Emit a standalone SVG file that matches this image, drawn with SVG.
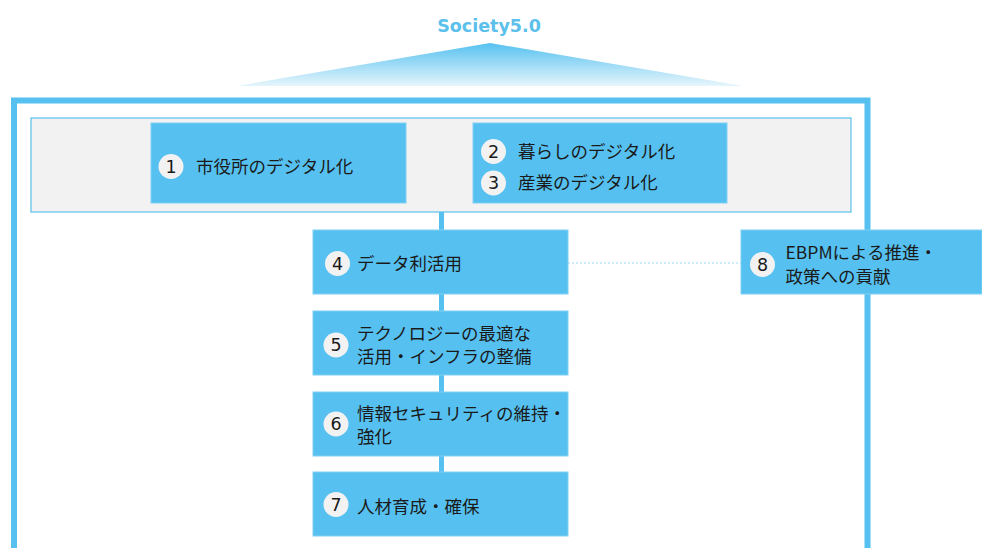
<svg xmlns="http://www.w3.org/2000/svg" width="982" height="548" viewBox="0 0 982 548">
<style>
.box{fill:#56C1F0;stroke:#7FD0F3;stroke-width:1}
.num{fill:#F2F2F2}
.nt{font-family:"DejaVu Sans",Verdana,sans-serif;font-size:17.5px;fill:#1A1A1A;text-anchor:middle}
.t{font-family:"Noto Sans CJK JP","Noto Sans",sans-serif;font-size:17.5px;fill:#1A1A1A}
</style>
<defs>
<linearGradient id="tri" x1="0" y1="0" x2="0" y2="1">
<stop offset="0" stop-color="#56C1F0"/>
<stop offset="1" stop-color="#E6F5FC"/>
</linearGradient>
</defs>
<rect width="982" height="548" fill="#FFFFFF"/>
<g id="society">
<text x="489" y="32" text-anchor="middle" font-family="DejaVu Sans,Verdana,sans-serif" font-weight="bold" font-size="17.5" fill="#5BC0EB">Society5.0</text>
<polygon points="490,43 743,86 237,86" fill="url(#tri)"/>
</g>
<g id="frame">
<path d="M14,548 V100.5 H867.5 V548" fill="none" stroke="#56C1F0" stroke-width="6"/>
</g>
<g id="panel">
<rect x="31" y="118" width="820" height="94" fill="#F2F2F2" stroke="#5BC0EB" stroke-width="1.2"/>
</g>
<g id="connectors">
<line x1="441.5" y1="212" x2="441.5" y2="472" stroke="#56C1F0" stroke-width="5"/>
<line x1="568" y1="263" x2="741" y2="263" stroke="#9ED9F4" stroke-width="1" stroke-dasharray="2,2"/>
</g>
<g id="n1">
<rect class="box" x="151" y="123" width="255" height="80"/>
<circle class="num" cx="171" cy="166.5" r="12.5"/>
<text class="nt" x="171" y="172.8">1</text>
<text class="t" x="196" y="172.5">市役所のデジタル化</text>
</g>
<g id="n23">
<rect class="box" x="473" y="123" width="254" height="80"/>
<circle class="num" cx="493.5" cy="151.5" r="12.5"/>
<text class="nt" x="493.5" y="157.8">2</text>
<text class="t" x="518" y="157.5">暮らしのデジタル化</text>
<circle class="num" cx="493.5" cy="183" r="12.5"/>
<text class="nt" x="493.5" y="189.3">3</text>
<text class="t" x="518" y="189">産業のデジタル化</text>
</g>
<g id="n4">
<rect class="box" x="313" y="230" width="255" height="64"/>
<circle class="num" cx="337.5" cy="263.5" r="12.5"/>
<text class="nt" x="337.5" y="269.8">4</text>
<text class="t" x="357" y="269.5">データ利活用</text>
</g>
<g id="n8">
<rect class="box" x="741" y="230" width="241" height="64"/>
<circle class="num" cx="762.5" cy="264.5" r="12.5"/>
<text class="nt" x="762.5" y="270.8">8</text>
<text class="t" x="785.5" y="258.5">EBPMによる推進・</text>
<text class="t" x="785.5" y="283">政策への貢献</text>
</g>
<g id="n5">
<rect class="box" x="313" y="311" width="255" height="64"/>
<circle class="num" cx="336" cy="345" r="12.5"/>
<text class="nt" x="336" y="351.3">5</text>
<text class="t" x="357" y="339.5">テクノロジーの最適な</text>
<text class="t" x="357" y="363">活用・インフラの整備</text>
</g>
<g id="n6">
<rect class="box" x="313" y="392" width="255" height="64"/>
<circle class="num" cx="336" cy="424" r="12.5"/>
<text class="nt" x="336" y="430.3">6</text>
<text class="t" x="357" y="419.5">情報セキュリティの維持・</text>
<text class="t" x="357" y="443">強化</text>
</g>
<g id="n7">
<rect class="box" x="313" y="472" width="255" height="64"/>
<circle class="num" cx="336" cy="504.5" r="12.5"/>
<text class="nt" x="336" y="510.8">7</text>
<text class="t" x="357" y="512.5">人材育成・確保</text>
</g>
</svg>
